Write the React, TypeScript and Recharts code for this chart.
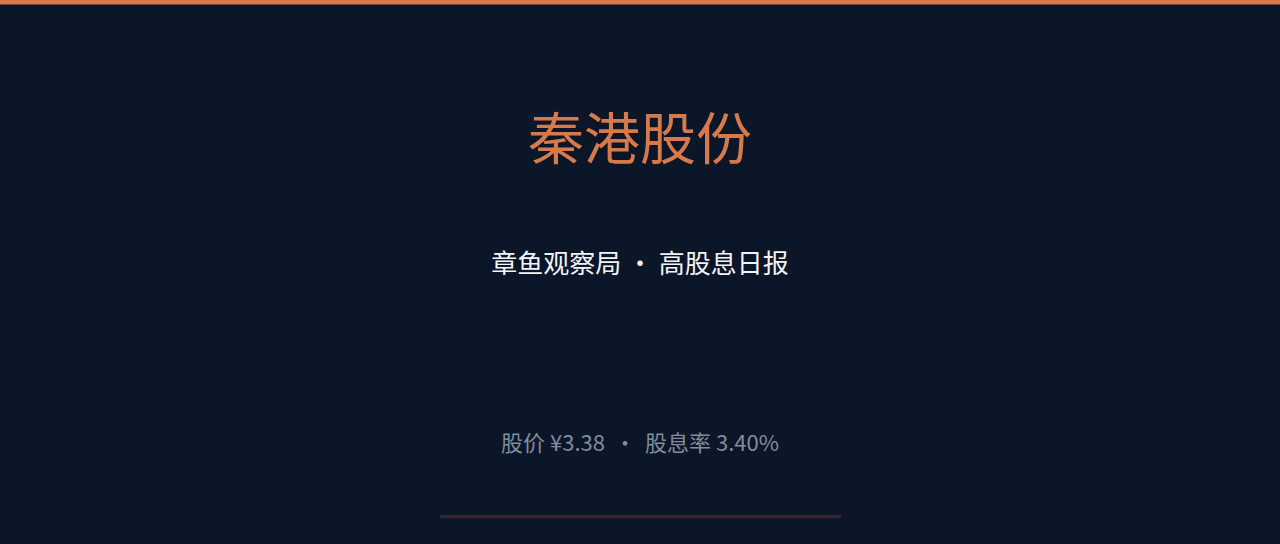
import React from "react";
import { ComposedChart, XAxis, YAxis, ReferenceArea, ReferenceLine, Customized } from "recharts";

const titleText = ["秦港股份"];
const subtitleParts = ["章鱼观察局", "高股息日报"];
const metricLabels = ["股价", "股息率"];
const metricValues = ["¥3.38", "3.40%"];
const frame = [{ x: 0, y: 0 }, { x: 1280, y: 544 }];

const BG = "#0b1628";
const ORANGE = "#d77a4b";
const MUTED = "#818d9f";
const FONT = "'Noto Sans CJK SC', 'Noto Sans', sans-serif";

const Texts = () => (
  <g>
    <text x={640} y={159} textAnchor="middle" fill={ORANGE} fontSize={56} fontFamily={FONT}>
      {titleText[0]}
    </text>
    <text x={640} y={273} textAnchor="middle" fill="#f2f4f7" fontSize={26} fontFamily={FONT}>
      {subtitleParts[0] + " ・ " + subtitleParts[1]}
    </text>
    <text x={605} y={451} textAnchor="end" fill={MUTED} fontSize={22} fontFamily={FONT}>
      {metricLabels[0] + " " + metricValues[0]}
    </text>
    <text x={625} y={451} textAnchor="middle" fill={MUTED} fontSize={22} fontFamily={FONT}>
      {"・"}
    </text>
    <text x={645} y={451} textAnchor="start" fill={MUTED} fontSize={22} fontFamily={FONT}>
      {metricLabels[1] + " " + metricValues[1]}
    </text>
  </g>
);

export default function App() {
  return (
    <div style={{ width: 1280, height: 544, background: BG, position: "absolute", left: 0, top: 0 }}>
      <style>{`body{margin:0;background:${BG};}`}</style>
      <ComposedChart width={1280} height={544} data={frame} margin={{ top: 0, right: 0, bottom: 0, left: 0 }}>
        <XAxis type="number" dataKey="x" domain={[0, 1280]} hide />
        <YAxis type="number" dataKey="y" domain={[0, 544]} reversed hide />
        <ReferenceArea x1={0} x2={1280} y1={0} y2={4.5} fill={ORANGE} fillOpacity={1} stroke="none" ifOverflow="visible" />
        <ReferenceLine segment={[{ x: 440, y: 516.5 }, { x: 841, y: 516.5 }]} stroke={ORANGE} strokeOpacity={0.2} strokeWidth={3.5} ifOverflow="visible" />
        <Customized component={Texts} />
      </ComposedChart>
    </div>
  );
}
